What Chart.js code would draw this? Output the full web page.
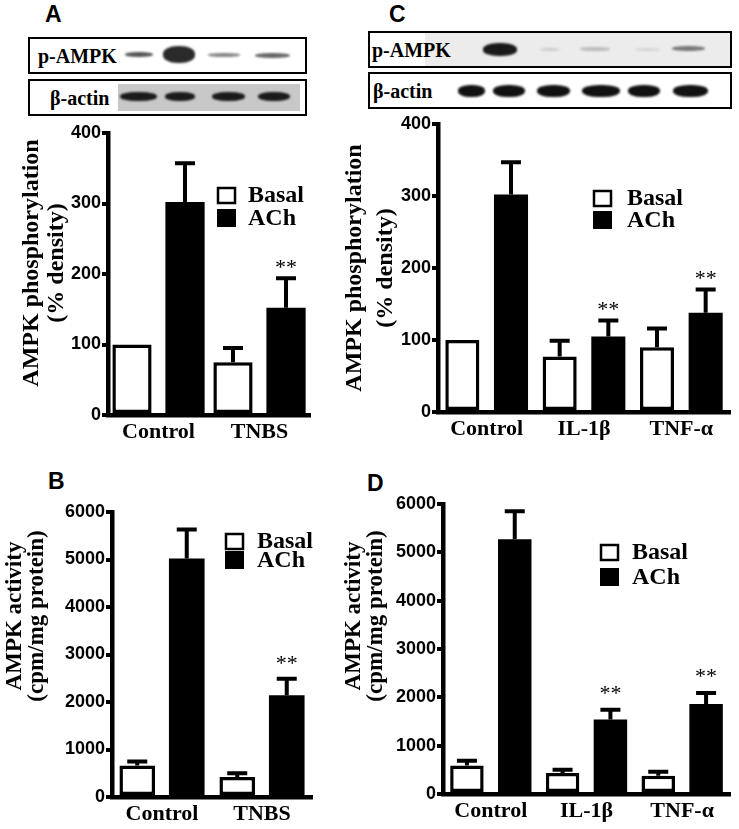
<!DOCTYPE html>
<html>
<head>
<meta charset="utf-8">
<script src="https://cdn.jsdelivr.net/npm/chart.js@4.4.1/dist/chart.umd.min.js"></script>
<style>
body { margin:0; background:#fff; }
#page { position:relative; width:739px; height:829px; overflow:hidden; background:#fff; }
canvas { position:absolute; }
.letter { position:absolute; font:bold 23px "Liberation Sans", Arial, sans-serif; line-height:23px; color:#000; }
.blot { position:absolute; border:2px solid #000; box-sizing:border-box; background:#fff; }
.lbl { position:absolute; font:bold 20px "Liberation Serif", serif; top:50%; transform:translateY(-50%); white-space:nowrap; }
.band { position:absolute; border-radius:45%; filter:blur(0.8px); }
</style>
</head>
<body>
<div id="page">
  <div class="letter" style="left:45px;top:3px">A</div>
  <div class="letter" style="left:389px;top:3px">C</div>
  <div class="letter" style="left:48px;top:470px">B</div>
  <div class="letter" style="left:367px;top:472px">D</div>

  <!-- blot A -->
  <div class="blot" style="left:28px;top:37px;width:279px;height:37px">
    <span class="lbl" style="left:8px">p-AMPK</span>
    <div class="band" style="left:95px;top:13px;width:28px;height:5px;background:#555"></div>
    <div class="band" style="left:133px;top:7px;width:32px;height:17px;background:#2a2a2a"></div>
    <div class="band" style="left:178px;top:14px;width:32px;height:4px;background:#888"></div>
    <div class="band" style="left:225px;top:14px;width:35px;height:5px;background:#666"></div>
  </div>
  <div class="blot" style="left:28px;top:79px;width:279px;height:37px">
    <span class="lbl" style="left:20px">β-actin</span>
    <div style="position:absolute;left:88px;top:3px;width:182px;height:27px;background:#c8c8c8"></div>
    <div class="band" style="left:90px;top:11px;width:37px;height:9px;background:#1a1a1a"></div>
    <div class="band" style="left:135px;top:11px;width:30px;height:9px;background:#1a1a1a"></div>
    <div class="band" style="left:182px;top:11px;width:33px;height:9px;background:#1a1a1a"></div>
    <div class="band" style="left:228px;top:11px;width:32px;height:9px;background:#1a1a1a"></div>
  </div>

  <!-- blot C -->
  <div class="blot" style="left:368px;top:31px;width:364px;height:37px">
    <div style="position:absolute;left:55px;top:0;right:0;bottom:0;background:#ececec"></div>
    <span class="lbl" style="left:2px">p-AMPK</span>
    <div class="band" style="left:113px;top:10px;width:34px;height:13px;background:#1a1a1a"></div>
    <div class="band" style="left:170px;top:15px;width:20px;height:3px;background:#ccc"></div>
    <div class="band" style="left:210px;top:14px;width:30px;height:4px;background:#bbb"></div>
    <div class="band" style="left:265px;top:15px;width:25px;height:3px;background:#d5d5d5"></div>
    <div class="band" style="left:302px;top:13px;width:33px;height:5px;background:#777"></div>
  </div>
  <div class="blot" style="left:368px;top:72px;width:364px;height:37px">
    <span class="lbl" style="left:3px">β-actin</span>
    <div class="band" style="left:88px;top:11px;width:27px;height:12px;background:#111"></div>
    <div class="band" style="left:123px;top:11px;width:32px;height:12px;background:#111"></div>
    <div class="band" style="left:167px;top:11px;width:33px;height:12px;background:#111"></div>
    <div class="band" style="left:212px;top:11px;width:38px;height:12px;background:#111"></div>
    <div class="band" style="left:258px;top:11px;width:32px;height:12px;background:#111"></div>
    <div class="band" style="left:303px;top:11px;width:35px;height:12px;background:#111"></div>
  </div>

  <canvas id="chartA" width="320" height="330" style="left:0px;top:120px"></canvas>
  <canvas id="chartC" width="405" height="335" style="left:330px;top:110px"></canvas>
  <canvas id="chartB" width="325" height="334" style="left:0px;top:495px"></canvas>
  <canvas id="chartD" width="405" height="339" style="left:330px;top:490px"></canvas>
</div>
<script>
// categories and series
const catsTNBS = ['Control', 'TNBS'];
const catsCyto = ['Control', 'IL-1β', 'TNF-α'];
const seriesNames = ['Basal', 'ACh'];

// A: AMPK phosphorylation (% density), TNBS
const phosBasalA = [100, 75];
const phosBasalErrA = [0, 20];
const phosAChA = [302, 152];
const phosAChErrA = [55, 42];
const starsA = ['', '**'];

// B: AMPK activity (cpm/mg protein), TNBS
const actBasalB = [665, 420];
const actBasalErrB = [85, 80];
const actAChB = [5020, 2140];
const actAChErrB = [610, 350];
const starsB = ['', '**'];

// C: AMPK phosphorylation, cytokines
const phosBasalC = [100, 77, 90];
const phosBasalErrC = [0, 22, 26];
const phosAChC = [302, 105, 138];
const phosAChErrC = [45, 22, 32];
const starsC = ['', '**', '**'];

// D: AMPK activity, cytokines
const actBasalD = [590, 434, 379];
const actBasalErrD = [100, 70, 83];
const actAChD = [5270, 1540, 1860];
const actAChErrD = [580, 205, 230];
const starsD = ['', '**', '**'];

const phosTicks = [0, 100, 200, 300, 400];
const actTicks = [0, 1000, 2000, 3000, 4000, 5000, 6000];

const serif = '"Liberation Serif", "Times New Roman", serif';
const sans = '"Liberation Sans", Arial, sans-serif';

// error bars, asterisks, legend and two-line y title
const extras = {
    id: 'extras',
    afterDatasetsDraw(chart, args, o) {
        const ctx = chart.ctx;
        const y = chart.scales.y;
        const area = chart.chartArea;
        ctx.save();
        ctx.strokeStyle = '#000';
        ctx.fillStyle = '#000';
        ctx.lineWidth = 4;
        chart.data.datasets.forEach((ds, i) => {
            chart.getDatasetMeta(i).data.forEach((bar, j) => {
                const v = ds.data[j];
                const e = o.errors[i][j];
                let cap = y.getPixelForValue(v);
                if (e > 0) {
                    cap = y.getPixelForValue(v + e);
                    ctx.beginPath();
                    ctx.moveTo(bar.x, y.getPixelForValue(v));
                    ctx.lineTo(bar.x, cap);
                    ctx.moveTo(bar.x - 10, cap);
                    ctx.lineTo(bar.x + 10, cap);
                    ctx.stroke();
                }
                const s = o.stars[i] && o.stars[i][j];
                if (s) {
                    ctx.font = '22px ' + serif;
                    ctx.textAlign = 'center';
                    ctx.textBaseline = 'alphabetic';
                    ctx.fillText(s, bar.x, cap - o.starGap);
                }
            });
        });

        // legend
        const lg = o.legend;
        ctx.font = 'bold 24px ' + serif;
        ctx.textAlign = 'left';
        ctx.textBaseline = 'middle';
        chart.data.datasets.forEach((ds, i) => {
            const bx = area.left + lg.dx;
            const cy = area.top + lg.dy + i * lg.gap;
            if (i === 0) {
                ctx.lineWidth = 2.5;
                ctx.strokeRect(bx + 1, cy - 7, 17, 15);
            } else {
                ctx.fillRect(bx, cy - 9, 19, 18);
            }
            ctx.fillText(ds.label, bx + lg.textDx, cy + 1);
        });

        // y title
        const t = o.title;
        ctx.translate(t.x, t.y);
        ctx.rotate(-Math.PI / 2);
        ctx.font = 'bold ' + t.size + 'px ' + serif;
        ctx.textAlign = 'center';
        ctx.textBaseline = 'middle';
        t.lines.forEach((line, k) => ctx.fillText(line, 0, k * t.lh));
        ctx.restore();
    }
};

function makePanel(id, cats, basal, basalErr, ach, achErr, stars, ticks, cfg) {
    const max = ticks[ticks.length - 1];
    new Chart(document.getElementById(id), {
        type: 'bar',
        data: {
            labels: cats,
            datasets: [{
                label: seriesNames[0],
                data: basal,
                backgroundColor: '#fff',
                borderColor: '#000',
                borderWidth: 3.5,
                borderSkipped: false
            }, {
                label: seriesNames[1],
                data: ach,
                backgroundColor: '#000',
                borderColor: '#000',
                borderWidth: 0
            }]
        },
        options: {
            responsive: false,
            animation: false,
            events: [],
            categoryPercentage: cfg.cp,
            barPercentage: cfg.bp,
            layout: { padding: cfg.pad },
            plugins: {
                legend: { display: false },
                tooltip: { enabled: false },
                extras: {
                    errors: [basalErr, achErr],
                    stars: [[], stars],
                    starGap: cfg.starGap,
                    legend: cfg.legend,
                    title: cfg.title
                }
            },
            scales: {
                x: {
                    grid: { drawOnChartArea: false, drawTicks: false },
                    border: { display: true, width: 4.5, color: '#000' },
                    ticks: { color: '#000', padding: 4, maxRotation: 0, font: { family: serif, size: 22, weight: 'bold' } },
                    afterFit: s => { s.height = cfg.xh; }
                },
                y: {
                    min: 0,
                    max: max,
                    afterBuildTicks: s => { s.ticks = ticks.map(v => ({ value: v })); },
                    grid: { drawOnChartArea: false, drawTicks: true, tickLength: 6, lineWidth: 4, color: '#000' },
                    border: { display: true, width: 4.5, color: '#000' },
                    ticks: {
                        color: '#000',
                        padding: 1,
                        font: { family: sans, size: 18, weight: 'bold' },
                        callback: v => String(v)
                    },
                    afterFit: s => { s.width = cfg.yw; }
                }
            }
        },
        plugins: [extras]
    });
}

makePanel('chartA', catsTNBS, phosBasalA, phosBasalErrA, phosAChA, phosAChErrA, starsA, phosTicks, {
    cp: 1.05, bp: 0.74, yw: 108, xh: 35, starGap: 4,
    pad: { left: 0, top: 13, right: 10, bottom: 0 },
    legend: { dx: 109, dy: 62, gap: 23, textDx: 31 },
    title: { x: 32, y: 143, lh: 25, size: 24, lines: ['AMPK phosphorylation', '(% density)'] }
});
makePanel('chartC', catsCyto, phosBasalC, phosBasalErrC, phosAChC, phosAChErrC, starsC, phosTicks, {
    cp: 1.0, bp: 0.70, yw: 108, xh: 33, starGap: 5,
    pad: { left: 0, top: 14, right: 5, bottom: 0 },
    legend: { dx: 155, dy: 74, gap: 22, textDx: 34 },
    title: { x: 25, y: 158, lh: 31, size: 24, lines: ['AMPK phosphorylation', '(% density)'] }
});
makePanel('chartB', catsTNBS, actBasalB, actBasalErrB, actAChB, actAChErrB, starsB, actTicks, {
    cp: 0.99, bp: 0.72, yw: 112, xh: 32, starGap: 9,
    pad: { left: 0, top: 17, right: 13, bottom: 0 },
    legend: { dx: 113, dy: 29, gap: 19, textDx: 32 },
    title: { x: 15, y: 121, lh: 22, size: 23, lines: ['AMPK activity', '(cpm/mg protein)'] }
});
makePanel('chartD', catsCyto, actBasalD, actBasalErrD, actAChD, actAChErrD, starsD, actTicks, {
    cp: 1.0, bp: 0.70, yw: 113, xh: 35, starGap: 10,
    pad: { left: 0, top: 14, right: 5, bottom: 0 },
    legend: { dx: 157, dy: 48, gap: 25, textDx: 32 },
    title: { x: 24, y: 126, lh: 22, size: 23, lines: ['AMPK activity', '(cpm/mg protein)'] }
});
</script>
</body>
</html>
